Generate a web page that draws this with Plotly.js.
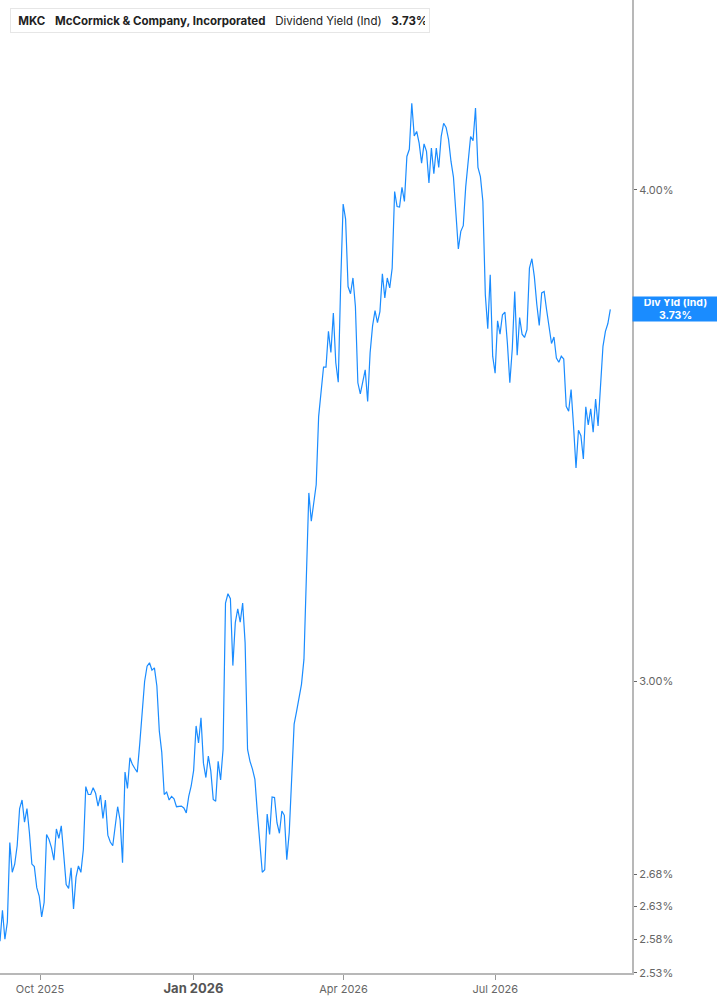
<!DOCTYPE html>
<html>
<head>
<meta charset="utf-8">
<script src="https://cdn.plot.ly/plotly-3.0.1.min.js"></script>
<style>
  html, body { margin: 0; padding: 0; background: #fff; }
  #chart { width: 717px; height: 1005px; }
</style>
</head>
<body>
<div id="chart"></div>
<script>
// MKC dividend yield (indicated), in percent
const startDate = '2025-09-07';
const endDate = '2026-09-08';

const yieldValues = [
  2.577, 2.624, 2.580, 2.606, 2.730, 2.683, 2.696, 2.725, 2.785, 2.799,
  2.763, 2.785, 2.746, 2.696, 2.692, 2.659, 2.646, 2.614, 2.636, 2.743,
  2.735, 2.722, 2.702, 2.752, 2.737, 2.757, 2.711, 2.664, 2.658, 2.690,
  2.626, 2.675, 2.693, 2.683, 2.719, 2.821, 2.808, 2.808, 2.819, 2.810,
  2.789, 2.807, 2.769, 2.799, 2.742, 2.731, 2.725, 2.757, 2.788, 2.766,
  2.698, 2.845, 2.818, 2.869, 2.858, 2.851, 2.845, 2.892, 2.948, 3.000,
  3.027, 3.033, 3.020, 3.024, 2.992, 2.914, 2.878, 2.808, 2.812, 2.799,
  2.805, 2.801, 2.788, 2.788, 2.789, 2.786, 2.778, 2.805, 2.822, 2.848,
  2.923, 2.894, 2.937, 2.860, 2.836, 2.872, 2.847, 2.800, 2.797, 2.863,
  2.832, 2.883, 3.141, 3.158, 3.149, 3.028, 3.105, 3.130, 3.106, 3.141,
  3.069, 2.883, 2.863, 2.850, 2.833, 2.778, 2.725, 2.683, 2.687, 2.776,
  2.743, 2.804, 2.803, 2.762, 2.745, 2.781, 2.774, 2.703, 2.746, 2.833,
  2.926, 2.948, 2.969, 2.995, 3.039, 3.197, 3.350, 3.295, 3.330, 3.366,
  3.503, 3.562, 3.606, 3.606, 3.682, 3.637, 3.722, 3.615, 3.574, 3.788,
  3.967, 3.932, 3.780, 3.764, 3.799, 3.736, 3.573, 3.550, 3.574, 3.600,
  3.534, 3.636, 3.694, 3.727, 3.701, 3.725, 3.808, 3.755, 3.799, 3.777,
  3.821, 3.996, 3.961, 3.960, 4.006, 3.973, 4.079, 4.096, 4.208, 4.128,
  4.139, 4.111, 4.063, 4.109, 4.091, 4.016, 4.099, 4.038, 4.099, 4.053,
  4.127, 4.159, 4.149, 4.120, 4.067, 4.030, 3.946, 3.864, 3.904, 3.917,
  4.007, 4.071, 4.127, 4.117, 4.196, 4.053, 4.031, 3.973, 3.762, 3.688,
  3.806, 3.629, 3.593, 3.705, 3.676, 3.718, 3.724, 3.657, 3.573, 3.645,
  3.769, 3.631, 3.712, 3.676, 3.669, 3.686, 3.821, 3.842, 3.802, 3.741,
  3.695, 3.766, 3.769, 3.729, 3.687, 3.656, 3.670, 3.625, 3.616, 3.629,
  3.623, 3.524, 3.514, 3.559, 3.483, 3.399, 3.475, 3.464, 3.417, 3.523,
  3.486, 3.519, 3.471, 3.539, 3.484, 3.574, 3.650, 3.682, 3.699, 3.730
];

const xTickDates = ['2025-10-01', '2026-01-01', '2026-04-01', '2026-07-01'];
const xTickLabels = ['Oct 2025', '<span style="font-size:13px;fill:#555"><b>Jan 2026</b></span>', 'Apr 2026', 'Jul 2026'];
const yTickValues = [2.53, 2.58, 2.63, 2.68, 3.00, 4.00];
const yTickLabels = yTickValues.map(v => v.toFixed(2) + '%');

const ticker = 'MKC';
const company = 'McCormick & Company, Incorporated';
const metric = 'Dividend Yield (Ind)';
const lastValue = yieldValues[yieldValues.length - 1];

// spread the readings evenly over the dates they cover
const t0 = new Date(startDate + 'T00:00:00Z').getTime();
const t1 = new Date(endDate + 'T00:00:00Z').getTime();
const step = (t1 - t0) / (yieldValues.length - 1);
const dates = yieldValues.map((_, i) => new Date(t0 + i * step).toISOString().slice(0, 19));

const plotDiv = document.getElementById('chart');
const lineBlue = '#1a8cff';
const axisGray = '#b8b8b8';

const data = [{
    x: dates,
    y: yieldValues,
    type: 'scatter',
    mode: 'lines',
    line: { color: lineBlue, width: 1.2 },
    hoverinfo: 'skip'
}];

const layout = {
    width: 717,
    height: 1005,
    margin: { t: 0, b: 32, l: 0, r: 85 },
    paper_bgcolor: '#fff',
    plot_bgcolor: '#fff',
    font: { family: 'Inter, Roboto, sans-serif', color: '#666', size: 11 },
    showlegend: false,
    xaxis: {
        type: 'date',
        range: ['2025-09-07', '2026-09-21'],
        tickvals: xTickDates,
        ticktext: xTickLabels,
        ticks: 'outside',
        ticklen: 5,
        tickwidth: 1,
        tickcolor: '#999',
        showline: true,
        linecolor: axisGray,
        linewidth: 2,
        showgrid: false,
        zeroline: false,
        tickfont: { size: 11, color: '#666' },
        fixedrange: true
    },
    yaxis: {
        type: 'log',
        side: 'right',
        range: [Math.log10(2.5295), Math.log10(4.47)],
        tickvals: yTickValues,
        ticktext: yTickLabels,
        ticks: 'outside',
        ticklen: 3,
        tickwidth: 1,
        tickcolor: '#666',
        showline: true,
        linecolor: axisGray,
        linewidth: 2,
        showgrid: false,
        zeroline: false,
        tickfont: { size: 11, color: '#666' },
        fixedrange: true
    },
    annotations: [
        {
            xref: 'paper', yref: 'paper',
            x: 10 / 632, y: 1 - 8 / 973,
            xanchor: 'left', yanchor: 'top',
            align: 'left',
            width: 410, height: 15,
            borderpad: 4,
            bgcolor: '#fff',
            bordercolor: '#e6e6e6',
            borderwidth: 1,
            showarrow: false,
            font: { size: 11.5, color: '#222' },
            text: '&nbsp;<b>' + ticker + '</b>&nbsp;&nbsp;&nbsp;<b>' + company.replace('&', '&amp;') +
                  '</b>&nbsp;&nbsp;&nbsp;' + metric + '&nbsp;&nbsp;&nbsp;<b>' + lastValue.toFixed(2) + '%</b>'
        },
        {
            xref: 'paper', yref: 'y',
            x: 1, y: Math.log10(lastValue),
            xanchor: 'left', yanchor: 'middle',
            width: 81, height: 20,
            borderpad: 2,
            bgcolor: lineBlue,
            showarrow: false,
            font: { size: 10.5, color: '#fff' },
            text: '<b>Div Yld (Ind)<br>' + lastValue.toFixed(2) + '%</b>'
        }
    ],
    shapes: [{
        type: 'rect',
        xref: 'paper', yref: 'paper',
        x0: 10 / 632, x1: 13 / 632,
        y0: 1 - 33 / 973, y1: 1 - 8 / 973,
        fillcolor: lineBlue,
        line: { width: 0 },
        layer: 'above'
    }]
};

Plotly.newPlot(plotDiv, data, layout, { displayModeBar: false, staticPlot: true });
</script>
</body>
</html>
